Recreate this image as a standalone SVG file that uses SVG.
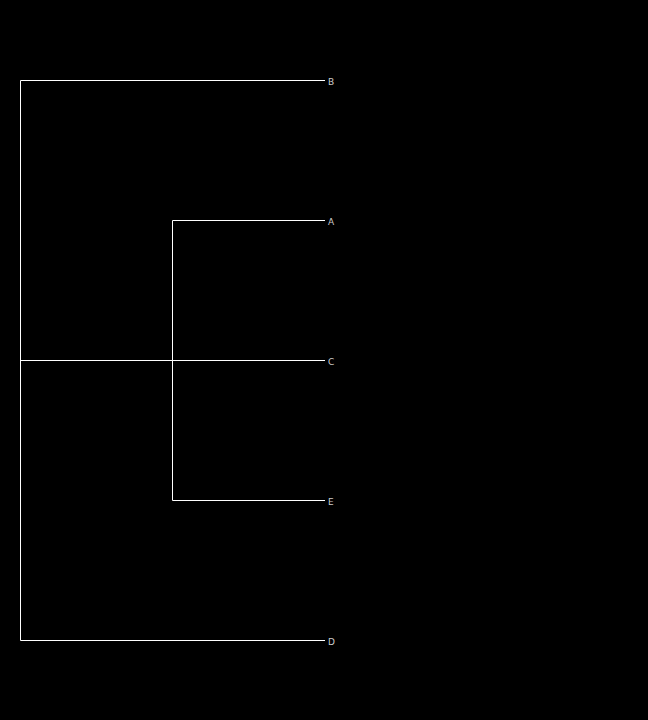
<svg xmlns="http://www.w3.org/2000/svg" width="648" height="720" viewBox="0 0 648 720">
<style>
.l{stroke:#ffffff;stroke-width:1;fill:none}
.t{font-family:"DejaVu Sans",sans-serif;font-size:9px;fill:#cccccc;dominant-baseline:central}
</style>
<rect width="648" height="720" fill="#000000"/>
<g id="connectors">
<path class="l" d="M325 80.5H20.5V640.5H325"/>
<path class="l" d="M20.5 360.5H325"/>
<path class="l" d="M325 220.5H172.5V500.5H325"/>
</g>
<g id="B"><text class="t" x="328" y="81.5">B</text></g>
<g id="A"><text class="t" x="328" y="221.5">A</text></g>
<g id="C"><text class="t" x="328" y="361.5">C</text></g>
<g id="E"><text class="t" x="328" y="501.5">E</text></g>
<g id="D"><text class="t" x="328" y="641.5">D</text></g>
</svg>
